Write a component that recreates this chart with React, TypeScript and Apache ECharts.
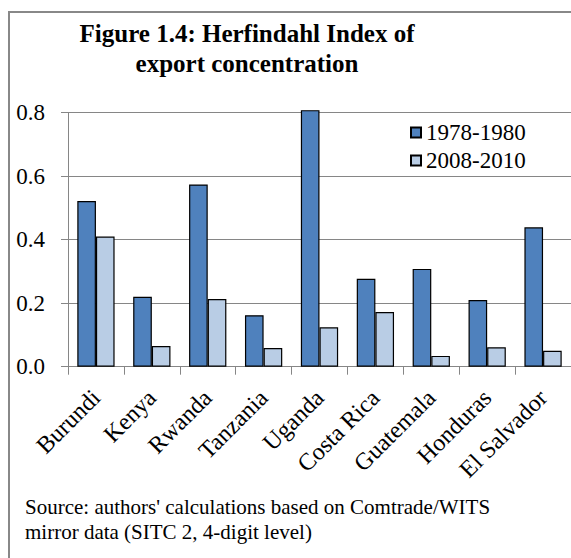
import React, { useEffect, useRef } from "react";
import * as echarts from "echarts";

const categories = ["Burundi", "Kenya", "Rwanda", "Tanzania", "Uganda", "Costa Rica", "Guatemala", "Honduras", "El Salvador"];
const series1978 = [0.522, 0.22, 0.574, 0.162, 0.808, 0.277, 0.308, 0.21, 0.439];
const series2008 = [0.41, 0.065, 0.213, 0.059, 0.124, 0.172, 0.034, 0.061, 0.05];
const seriesNames = ["1978-1980", "2008-2010"];
const yTicks = { min: 0, max: 0.8, interval: 0.2 };
const titleText = "Figure 1.4: Herfindahl Index of\nexport concentration";
const sourceText = "Source: authors' calculations based on Comtrade/WITS\nmirror data (SITC 2, 4-digit level)";

const FONT = "'Liberation Serif', 'Times New Roman', serif";

export default function App() {
  const ref = useRef<HTMLDivElement>(null);
  useEffect(() => {
    if (!ref.current) return;
    const chart = echarts.init(ref.current, null, { renderer: "svg" });
    chart.setOption({
      animation: false,
      backgroundColor: "#ffffff",
      textStyle: { fontFamily: FONT },
      title: {
        text: titleText,
        left: 242,
        top: 13,
        textAlign: "center",
        textStyle: { fontFamily: FONT, fontSize: 25, fontWeight: "bold", color: "#000", lineHeight: 30 },
      },
      legend: {
        orient: "vertical",
        left: 405,
        top: 116,
        itemWidth: 10,
        itemHeight: 10,
        itemGap: 5,
        icon: "rect",
        textStyle: { fontFamily: FONT, fontSize: 23, color: "#000" },
        data: seriesNames,
      },
      grid: { left: 68, top: 112.7, width: 504, height: 254, containLabel: false },
      xAxis: {
        type: "category",
        data: categories,
        axisLine: { show: true, lineStyle: { color: "#868686", width: 1 } },
        axisTick: { show: true, length: 8, alignWithLabel: false, lineStyle: { color: "#868686" } },
        axisLabel: { rotate: 45, margin: 27, fontFamily: FONT, fontSize: 24, color: "#000", interval: 0 },
      },
      yAxis: {
        type: "value",
        min: yTicks.min,
        max: yTicks.max,
        interval: yTicks.interval,
        axisLine: { show: true, lineStyle: { color: "#868686", width: 1 } },
        axisTick: { show: true, length: 7, lineStyle: { color: "#868686" } },
        splitLine: { show: true, lineStyle: { color: "#868686", width: 1 } },
        axisLabel: {
          margin: 23,
          fontFamily: FONT,
          fontSize: 23,
          color: "#000",
          formatter: (v: number) => v.toFixed(1),
        },
      },
      series: [
        {
          name: seriesNames[0],
          type: "bar",
          data: series1978,
          barGap: "0%",
          barCategoryGap: "33.3%",
          clip: false,
          itemStyle: { color: "#4F81BD", borderColor: "#000", borderWidth: 1.2 },
        },
        {
          name: seriesNames[1],
          type: "bar",
          data: series2008,
          barGap: "0%",
          barCategoryGap: "33.3%",
          clip: false,
          itemStyle: { color: "#B9CDE5", borderColor: "#000", borderWidth: 1.2 },
        },
      ],
      graphic: [
        {
          type: "rect",
          shape: { x: 9, y: 12, width: 600, height: 600 },
          style: { fill: "none", stroke: "#888888", lineWidth: 2 },
          silent: true,
        },
        {
          type: "text",
          left: 25,
          top: 494,
          style: {
            text: sourceText,
            font: `21px ${FONT}`,
            fill: "#000",
            lineHeight: 25,
          },
        },
      ],
    });
    return () => chart.dispose();
  }, []);
  return (
    <div
      ref={ref}
      style={{ position: "absolute", left: 0, top: 0, width: 571, height: 558 }}
    />
  );
}
